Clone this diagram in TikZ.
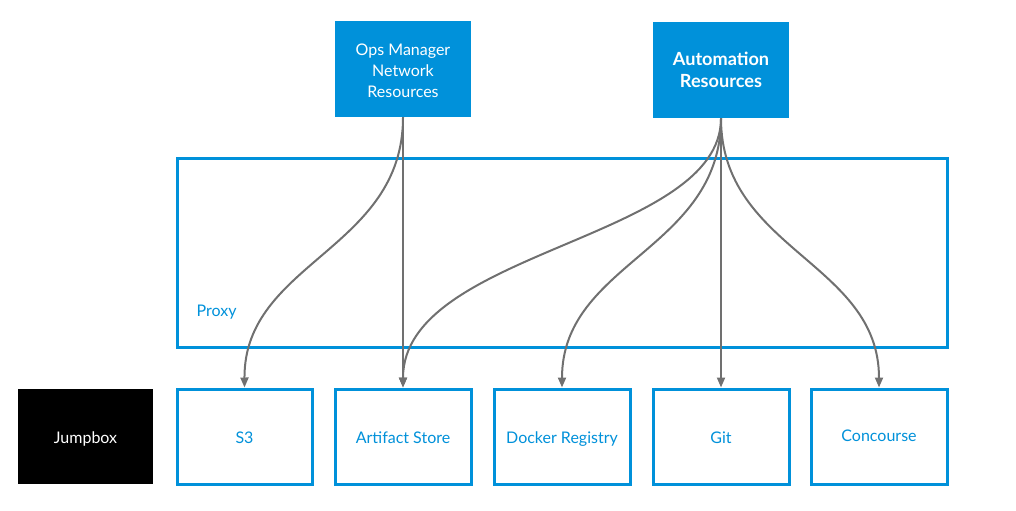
\documentclass[tikz,border=0pt]{standalone}
\usepackage{fontspec}
\setmainfont{Lato}
\usetikzlibrary{arrows.meta}
\definecolor{pblue}{RGB}{0,145,218}
\definecolor{agray}{RGB}{112,112,112}
\tikzset{
  px/.style={x=0.75pt,y=-0.75pt},
  solidbox/.style={fill=pblue,draw=none,text=white,inner sep=0pt,align=center,font=\fontsize{12}{15.75}\selectfont},
  outbox/.style={draw=pblue,line width=2.25pt,fill=white,text=pblue,inner sep=0pt,text height=11pt,text depth=0.9pt,font=\fontsize{12}{15}\selectfont},
  jbox/.style={fill=black,draw=none,text=white,inner sep=0pt,text height=11pt,text depth=0.9pt,font=\fontsize{12}{15}\selectfont},
  conn/.style={draw=agray,line width=1.5pt,-{Triangle[length=7.5pt,width=6pt]}}
}
\begin{document}
\begin{tikzpicture}[px]
\useasboundingbox (0,0) rectangle (1016,510);
% proxy
\draw[draw=pblue,line width=2.25pt] (177,158) rectangle (947,347);
\node[text=pblue,anchor=west,font=\fontsize{12}{15}\selectfont] (proxy) at (192,312) {Proxy};
% top boxes
\node[solidbox,minimum width=102pt,minimum height=72pt] (ops) at (403,69) {\begin{tabular}{@{}c@{}}\rule{0pt}{15.5pt}Ops Manager\\Network\\Resources\end{tabular}};
\node[solidbox,minimum width=102pt,minimum height=72pt,font=\bfseries\fontsize{13.6}{16.5}\selectfont] (auto) at (721,70) {Automation\\Resources};
% bottom boxes
\node[jbox,minimum width=101.25pt,minimum height=71.25pt] (jump) at (85.5,436.5) {Jumpbox};
\node[outbox,minimum width=101.25pt,minimum height=71.25pt] (s3) at (244.5,436.5) {S3};
\node[outbox,minimum width=102pt,minimum height=71.25pt] (art) at (403,436.5) {Artifact Store};
\node[outbox,minimum width=102pt,minimum height=71.25pt] (dock) at (562,436.5) {Docker Registry};
\node[outbox,minimum width=102pt,minimum height=71.25pt] (git) at (721,436.5) {Git};
\node[outbox,minimum width=102pt,minimum height=71.25pt] (conc) at (879,436.5) {\raisebox{1.5pt}{Concourse}};
% connectors
\draw[conn] (ops.south) .. controls (403,250) and (244,262) .. (s3.north);
\draw[conn] (ops.south) -- (art.north);
\draw[conn] (auto.south) .. controls (721,240) and (403,250) .. (art.north);
\draw[conn] (auto.south) .. controls (721,250) and (562,262) .. (dock.north);
\draw[conn] (auto.south) -- (git.north);
\draw[conn] (auto.south) .. controls (721,250) and (879,262) .. (conc.north);
\end{tikzpicture}
\end{document}
